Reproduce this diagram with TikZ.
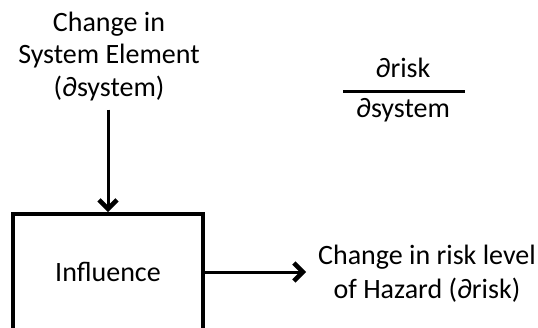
\documentclass[tikz,border=0pt]{standalone}
\usepackage{fontspec}
\setmainfont{Carlito}
\usetikzlibrary{arrows.meta}
\begin{document}
\begin{tikzpicture}[x=1pt,y=-1pt,
  lbl/.style={align=center,inner sep=0pt,font=\fontsize{28}{32.5}\selectfont},
  blk/.style={draw,line width=4pt,minimum width=190pt,minimum height=116pt,inner sep=0pt,font=\fontsize{28}{33}\selectfont},
  arr/.style={line width=3pt,-{Straight Barb[length=9pt,width=18pt,line width=4.5pt]}}]
  \useasboundingbox (0,0) rectangle (538,327);
  % input label and the block it feeds
  \node[lbl,anchor=base] (sys) at (109,96) {Change in\\System Element\\(∂system)};
  \node[blk] (box) at (108,272) {Influence};
  % output label
  \node[lbl,anchor=base,font=\fontsize{28}{34}\selectfont] (out) at (427,298) {Change in risk level\\of Hazard (∂risk)};
  % sensitivity ratio
  \node[lbl,anchor=base] (num) at (403,77) {∂risk};
  \node[lbl,anchor=base] (den) at (403,117) {∂system};
  \coordinate (barL) at (343,91);
  \coordinate (barR) at (465,91);
  \draw[line width=3pt] (barL) -- (barR);
  % connectors
  \draw[arr,shorten <=9pt] (sys.south -| box.north) -- (box.north);
  \draw[arr] (box.east) -- ([xshift=-12pt]out.west |- box.east);
\end{tikzpicture}
\end{document}
